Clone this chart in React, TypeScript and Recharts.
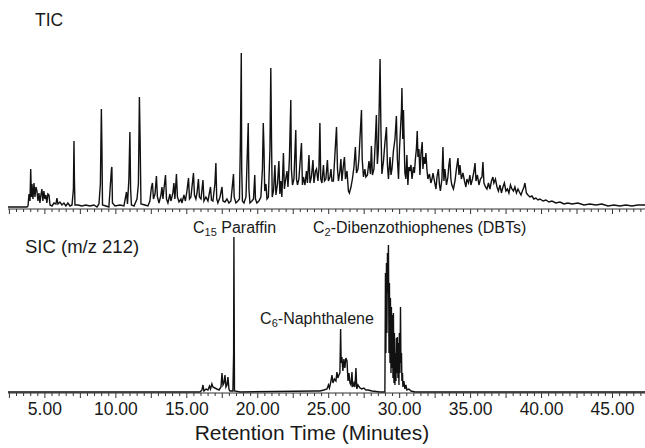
import React from 'react';
import { LineChart, Line, XAxis, YAxis } from 'recharts';

// retention time (min), abundance — total ion chromatogram
const ticPoints: [number, number][] = [
  [2.40, 2], [3.74, 2], [3.81, 3], [3.88, 15], [3.95, 8], [4.00, 40], [4.05, 12], [4.09, 25],
  [4.16, 10], [4.23, 26], [4.30, 12], [4.37, 22], [4.44, 18], [4.51, 8], [4.58, 16], [4.65, 6],
  [4.72, 14], [4.79, 20], [4.86, 8], [4.93, 18], [5.00, 10], [5.07, 14], [5.14, 6], [5.21, 15],
  [5.29, 14], [5.36, 4], [5.50, 3], [5.64, 6], [5.78, 5], [5.85, 11], [5.92, 5], [6.06, 7],
  [6.20, 4], [6.34, 6], [6.48, 3], [6.62, 6], [6.77, 3], [6.91, 4], [7.01, 20], [7.05, 68],
  [7.08, 30], [7.12, 4], [7.33, 4], [7.61, 3], [7.89, 4], [8.17, 3], [8.46, 4], [8.67, 2],
  [8.81, 5], [8.91, 25], [8.98, 100], [9.02, 60], [9.06, 4], [9.30, 3], [9.51, 2], [9.69, 40],
  [9.72, 42], [9.76, 6], [9.94, 3], [10.29, 4], [10.57, 3], [10.75, 17], [10.82, 5], [10.92, 30],
  [10.99, 77], [11.04, 20], [11.10, 4], [11.28, 3], [11.49, 10], [11.59, 25], [11.66, 112], [11.71, 70],
  [11.77, 5], [12.05, 4], [12.26, 3], [12.40, 8], [12.51, 22], [12.58, 26], [12.65, 10], [12.76, 15],
  [12.86, 33], [12.93, 12], [13.04, 6], [13.18, 14], [13.25, 22], [13.32, 10], [13.39, 20], [13.50, 34],
  [13.57, 10], [13.67, 6], [13.81, 15], [13.88, 8], [14.02, 16], [14.09, 26], [14.16, 10], [14.27, 35],
  [14.34, 12], [14.45, 7], [14.59, 10], [14.66, 6], [14.80, 14], [14.90, 8], [15.01, 18], [15.12, 31],
  [15.19, 10], [15.29, 12], [15.47, 36], [15.54, 14], [15.64, 10], [15.72, 16], [15.82, 30], [15.89, 12],
  [16.00, 10], [16.14, 29], [16.21, 8], [16.35, 12], [16.49, 8], [16.67, 22], [16.74, 9], [16.84, 8],
  [16.98, 25], [17.05, 46], [17.11, 10], [17.19, 6], [17.34, 12], [17.48, 22], [17.55, 8], [17.69, 7],
  [17.83, 10], [17.97, 6], [18.11, 8], [18.29, 35], [18.34, 12], [18.46, 6], [18.60, 8], [18.71, 10],
  [18.78, 70], [18.84, 156], [18.87, 40], [18.92, 8], [19.03, 6], [19.17, 12], [19.27, 58], [19.33, 86],
  [19.38, 20], [19.45, 6], [19.59, 8], [19.70, 10], [19.79, 34], [19.84, 10], [19.94, 6], [20.08, 8],
  [20.22, 12], [20.33, 40], [20.39, 86], [20.44, 60], [20.49, 18], [20.58, 25], [20.65, 10], [20.75, 12],
  [20.86, 60], [20.92, 141], [20.97, 70], [21.02, 12], [21.11, 18], [21.21, 44], [21.28, 14], [21.39, 25],
  [21.49, 48], [21.56, 15], [21.63, 28], [21.70, 12], [21.81, 56], [21.88, 20], [21.95, 28], [22.06, 38],
  [22.13, 22], [22.23, 50], [22.33, 109], [22.37, 40], [22.45, 24], [22.55, 30], [22.68, 79], [22.73, 30],
  [22.80, 24], [22.90, 30], [23.08, 66], [23.15, 24], [23.22, 32], [23.33, 24], [23.43, 38], [23.50, 26],
  [23.61, 54], [23.68, 26], [23.78, 32], [23.89, 49], [23.96, 26], [24.07, 38], [24.14, 40], [24.24, 28],
  [24.31, 40], [24.38, 86], [24.44, 30], [24.52, 26], [24.63, 44], [24.70, 28], [24.80, 30], [24.91, 49],
  [24.98, 28], [25.09, 32], [25.16, 40], [25.23, 28], [25.33, 28], [25.44, 55], [25.55, 82], [25.62, 40],
  [25.69, 28], [25.79, 38], [25.86, 50], [25.93, 28], [26.04, 44], [26.11, 52], [26.18, 30], [26.29, 38],
  [26.39, 18], [26.46, 16], [26.57, 22], [26.67, 30], [26.78, 42], [26.88, 62], [26.96, 36], [27.06, 40],
  [27.13, 50], [27.20, 70], [27.31, 99], [27.36, 50], [27.45, 32], [27.55, 40], [27.62, 32], [27.73, 34],
  [27.84, 48], [27.94, 35], [28.01, 63], [28.08, 34], [28.19, 40], [28.29, 70], [28.36, 94], [28.43, 45],
  [28.50, 60], [28.57, 110], [28.62, 150], [28.68, 80], [28.75, 35], [28.86, 48], [28.96, 66], [29.07, 82],
  [29.14, 44], [29.21, 30], [29.32, 52], [29.39, 34], [29.46, 40], [29.56, 58], [29.67, 70], [29.77, 93],
  [29.84, 50], [29.92, 30], [29.99, 60], [30.06, 80], [30.13, 100], [30.16, 121], [30.22, 70], [30.27, 99],
  [30.32, 65], [30.37, 36], [30.44, 30], [30.51, 54], [30.58, 24], [30.65, 42], [30.72, 38], [30.80, 44],
  [30.87, 30], [30.97, 42], [31.04, 36], [31.11, 50], [31.18, 60], [31.24, 78], [31.29, 52], [31.36, 60],
  [31.43, 34], [31.50, 55], [31.59, 67], [31.64, 40], [31.71, 52], [31.78, 45], [31.85, 56], [31.92, 40],
  [31.99, 30], [32.10, 35], [32.20, 26], [32.28, 30], [32.35, 36], [32.45, 28], [32.56, 20], [32.63, 32],
  [32.73, 40], [32.80, 25], [32.87, 18], [32.98, 30], [33.05, 62], [33.12, 28], [33.19, 40], [33.30, 24],
  [33.40, 32], [33.47, 44], [33.54, 51], [33.61, 30], [33.68, 24], [33.79, 20], [33.90, 28], [34.00, 40],
  [34.11, 51], [34.18, 34], [34.25, 44], [34.35, 30], [34.46, 36], [34.57, 28], [34.67, 22], [34.74, 30],
  [34.85, 26], [34.95, 34], [35.02, 24], [35.13, 30], [35.24, 38], [35.31, 46], [35.38, 28], [35.48, 34],
  [35.59, 24], [35.69, 30], [35.80, 32], [35.87, 47], [35.94, 26], [36.05, 22], [36.15, 20], [36.26, 26],
  [36.36, 20], [36.47, 28], [36.57, 32], [36.64, 26], [36.75, 30], [36.86, 22], [36.96, 18], [37.07, 24],
  [37.17, 16], [37.28, 22], [37.38, 26], [37.49, 18], [37.60, 20], [37.70, 16], [37.81, 24], [37.91, 20],
  [38.02, 18], [38.12, 22], [38.23, 16], [38.34, 20], [38.44, 17], [38.55, 14], [38.65, 18], [38.76, 22],
  [38.83, 26], [38.93, 16], [39.04, 14], [39.18, 12], [39.32, 13], [39.46, 10], [39.60, 11], [39.75, 9],
  [39.89, 10], [40.10, 8], [40.31, 9], [40.52, 7], [40.73, 8], [41.01, 6], [41.30, 7], [41.58, 5],
  [41.86, 6], [42.14, 5], [42.56, 6], [42.99, 4], [43.41, 5], [43.83, 4], [44.25, 5], [44.68, 3],
  [45.10, 4], [45.52, 3], [45.95, 4], [46.37, 3], [46.79, 4], [47.29, 4],
];

// selected ion chromatogram, m/z 212
const sicPoints: [number, number][] = [
  [2.40, 1], [15.93, 1], [16.07, 3], [16.14, 8], [16.21, 2], [16.35, 4], [16.49, 3], [16.60, 7],
  [16.67, 4], [16.77, 9], [16.84, 6], [16.98, 5], [17.12, 4], [17.27, 3], [17.41, 6], [17.48, 20],
  [17.55, 8], [17.62, 10], [17.69, 18], [17.76, 6], [17.83, 8], [17.90, 16], [17.97, 4], [18.04, 2],
  [18.25, 2], [18.30, 40], [18.32, 156], [18.36, 2], [18.75, 1], [24.10, 2], [24.38, 2], [24.66, 3],
  [24.88, 4], [24.98, 8], [25.05, 5], [25.16, 12], [25.23, 18], [25.30, 10], [25.40, 14], [25.51, 12],
  [25.58, 21], [25.65, 15], [25.72, 18], [25.79, 20], [25.84, 64], [25.88, 30], [25.93, 36], [26.00, 22],
  [26.07, 34], [26.14, 25], [26.21, 35], [26.29, 32], [26.36, 12], [26.43, 20], [26.50, 10], [26.57, 8],
  [26.64, 21], [26.69, 6], [26.78, 10], [26.85, 6], [26.92, 25], [26.98, 4], [27.06, 8], [27.20, 5],
  [27.34, 4], [27.48, 5], [27.62, 3], [27.77, 3], [28.05, 2], [28.61, 1], [28.96, 1], [29.00, 120],
  [29.03, 40], [29.07, 130], [29.10, 60], [29.14, 140], [29.17, 100], [29.21, 148], [29.25, 40], [29.28, 110],
  [29.32, 30], [29.35, 95], [29.39, 20], [29.42, 86], [29.46, 25], [29.49, 78], [29.53, 15], [29.56, 80],
  [29.60, 10], [29.63, 60], [29.67, 8], [29.70, 40], [29.74, 12], [29.77, 55], [29.81, 20], [29.84, 56],
  [29.88, 15], [29.91, 50], [29.95, 8], [29.98, 60], [30.02, 20], [30.06, 86], [30.09, 30], [30.13, 40],
  [30.16, 12], [30.20, 20], [30.23, 6], [30.30, 12], [30.37, 4], [30.44, 8], [30.51, 3], [30.65, 4],
  [30.80, 2], [31.08, 1], [47.29, 1],
];

const majorLabels = [5, 10, 15, 20, 25, 30, 35, 40, 45];
const minorTicks: number[] = [];
for (let t = 2.5; t <= 47.01; t += 0.5) minorTicks.push(Math.round(t * 10) / 10);

const ticData = ticPoints.map(([t, v]) => ({ t, v }));
const sicData = sicPoints.map(([t, v]) => ({ t, v }));

const FONT = '"Liberation Sans", Arial, sans-serif';
const INK = '#1a1a1a';

function makeTick(showLabels: boolean) {
  return (props: any) => {
    const { x, y, payload } = props;
    const v = payload.value;
    const major = Math.abs(v / 2.5 - Math.round(v / 2.5)) < 1e-6;
    return (
      <g>
        <line x1={x} x2={x} y1={y} y2={y + (major ? 5 : 3)} stroke="#333" strokeWidth={1} />
        {showLabels && majorLabels.includes(v) && (
          <text x={x} y={y + 22} textAnchor="middle" fontFamily={FONT} fontSize={17.5} fill={INK}>
            {v.toFixed(2)}
          </text>
        )}
      </g>
    );
  };
}

function Trace({ data, top, height, margin, axisHeight, yMax, labels }: any) {
  return (
    <div style={{ position: 'absolute', left: 0, top, width: 645, height }}>
      <LineChart width={645} height={height} data={data} margin={margin}>
        <XAxis
          type="number"
          dataKey="t"
          domain={[2.4, 47.29]}
          ticks={minorTicks}
          interval={0}
          height={axisHeight}
          tickSize={0}
          tickMargin={0}
          tick={makeTick(labels)}
          axisLine={{ stroke: '#333', strokeWidth: 1 }}
          allowDataOverflow
        />
        <YAxis hide type="number" domain={[0, yMax]} allowDataOverflow />
        <Line
          type="linear"
          dataKey="v"
          stroke="#111"
          strokeWidth={1.4}
          dot={false}
          isAnimationActive={false}
        />
      </LineChart>
    </div>
  );
}

export default function App() {
  return (
    <div style={{ position: 'absolute', left: 0, top: 0, width: 645, height: 448, background: '#fff', overflow: 'hidden' }}>
      <Trace data={ticData} top={0} height={220} margin={{ top: 52, right: 0, bottom: 0, left: 8 }} axisHeight={11} yMax={157} labels={false} />
      <Trace data={sicData} top={210} height={238} margin={{ top: 27, right: 0, bottom: 0, left: 8 }} axisHeight={55} yMax={156} labels={true} />
      <svg width={645} height={448} style={{ position: 'absolute', left: 0, top: 0, pointerEvents: 'none' }}>
        <g fontFamily={FONT} fill={INK}>
          <text x={35} y={26} fontSize={17.5}>TIC</text>
          <text x={25} y={253} fontSize={18.5}>SIC (m/z 212)</text>
          <text x={193} y={233} fontSize={16}>
            C<tspan fontSize={11} dy={3}>15</tspan><tspan dy={-3}> Paraffin</tspan>
          </text>
          <text x={313} y={233} fontSize={16}>
            C<tspan fontSize={11} dy={3}>2</tspan><tspan dy={-3}>-Dibenzothiophenes (DBTs)</tspan>
          </text>
          <text x={317} y={324} fontSize={16} textAnchor="middle">
            C<tspan fontSize={11} dy={3}>6</tspan><tspan dy={-3}>-Naphthalene</tspan>
          </text>
          <text x={312} y={440} fontSize={21} textAnchor="middle">Retention Time (Minutes)</text>
        </g>
      </svg>
    </div>
  );
}
